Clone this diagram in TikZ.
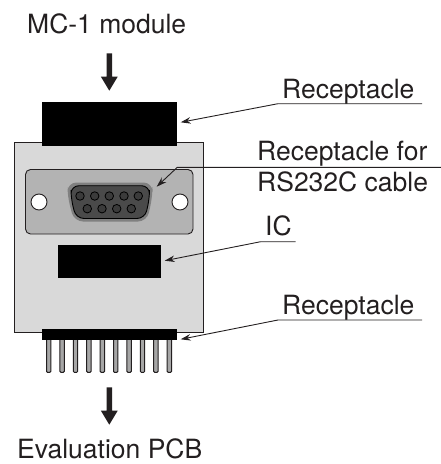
\documentclass[tikz,border=0pt]{standalone}
\usepackage{fontspec}
\setmainfont{TeX Gyre Heros}
\definecolor{ink}{HTML}{231F20}
\definecolor{boardgray}{HTML}{D9D9D9}
\definecolor{plategray}{HTML}{B3B3B3}
\definecolor{halogray}{HTML}{808080}
\definecolor{shellgray}{HTML}{4A4A4A}
\usetikzlibrary{arrows.meta}
\tikzset{
  lbl/.style={inner sep=0pt,anchor=base west,text=ink,font=\fontsize{26.5}{30}\selectfont},
  leader/.style={draw=ink,line width=0.9pt,-{Stealth[length=10pt,width=6.5pt]}},
  block/.style={fill=black,draw=none},
  bigarrow/.style={fill=ink,draw=none},
  pinrod/.style={fill=gray!70,draw=ink,line width=1pt,rounded corners=1pt},
  hole/.style={circle,fill=white,draw=ink,line width=0.9pt,minimum size=16pt,inner sep=0pt},
  contact/.style={circle,fill=shellgray!80!black,draw=black,line width=0.8pt,minimum size=8.5pt,inner sep=0pt}
}
\begin{document}
\begin{tikzpicture}[x=1pt,y=-1pt]
\useasboundingbox (0,0) rectangle (441,464);
% board
\path[fill=boardgray,draw=ink,line width=0.9pt] (14.5,142.5) rectangle (203.5,332);
\path[block] (42,102) rectangle (177,146);
\path[block] (42,329) rectangle (177,340);
\path[block] (58,245) rectangle (161,278);
% plate
\path[fill=plategray,draw=ink,line width=0.9pt,rounded corners=5pt] (25.5,169.5) rectangle (193,234);
\node[hole] (holeL) at (39,202) {};
\node[hole] (holeR) at (180,202) {};
% D-sub connector
\path[fill=halogray,rounded corners=9pt] (67.5,182.5) -- (152.5,182.5) -- (152.5,196) -- (147,221.5) -- (74,221.5) -- (67.5,196) -- cycle;
\path[fill=shellgray,draw=black,line width=0.9pt,rounded corners=8pt] (71,185.7) -- (149.5,185.7) -- (149.5,198) -- (145,218.5) -- (76,218.5) -- (71,198) -- cycle;
\foreach \i/\cx in {1/80,2/94.7,3/109.3,4/124,5/138.3} \node[contact] (ct\i) at (\cx,196) {};
\foreach \i/\cx in {1/87.3,2/102,3/116.7,4/131.3} \node[contact] (cb\i) at (\cx,208.7) {};
% pins
\foreach \i in {0,...,9} \path[pinrod] ({48.7+13.4*\i-2.2},340) -- ({48.7+13.4*\i-2.2},372.3) -- ({48.7+13.4*\i+2.2},372.3) -- ({48.7+13.4*\i+2.2},340);
% big arrows
\path[bigarrow] (106.6,53.3) -- (112,53.3) -- (112,76.7) -- (117.7,76.7) -- (109.3,90.7) -- (100.9,76.7) -- (106.6,76.7) -- cycle;
\path[bigarrow] (106.6,387.3) -- (112,387.3) -- (112,410.7) -- (117.7,410.7) -- (109.3,424.7) -- (100.9,410.7) -- (106.6,410.7) -- cycle;
% labels
\node[lbl] (mc) at (27,33) {MC-1 module};
\node[lbl] (rtop) at (282,98) {Receptacle};
\node[lbl] (rfor) at (257,160) {Receptacle for};
\node[lbl] (rs) at (257,191.7) {RS232C cable};
\node[lbl] (ic) at (265,235.7) {IC};
\node[lbl] (rbot) at (282,314.3) {Receptacle};
\node[lbl] (ev) at (17,458.5) {Evaluation PCB};
% leaders
\coordinate (a1) at (422,103.7); \coordinate (a2) at (278,103.7); \coordinate (a3) at (180.7,122.3);
\coordinate (b1) at (441,167.3); \coordinate (b2) at (177.3,167.3); \coordinate (b3) at (156.7,186.7);
\coordinate (c1) at (295.7,241.7); \coordinate (c2) at (260.7,241.7); \coordinate (c3) at (164.7,260.7);
\coordinate (d1) at (422,320); \coordinate (d2) at (278,320); \coordinate (d3) at (180.7,339.3);
\draw[leader] (a1) -- (a2) -- (a3);
\draw[leader] (b1) -- (b2) -- (b3);
\draw[leader] (c1) -- (c2) -- (c3);
\draw[leader] (d1) -- (d2) -- (d3);
\end{tikzpicture}
\end{document}
